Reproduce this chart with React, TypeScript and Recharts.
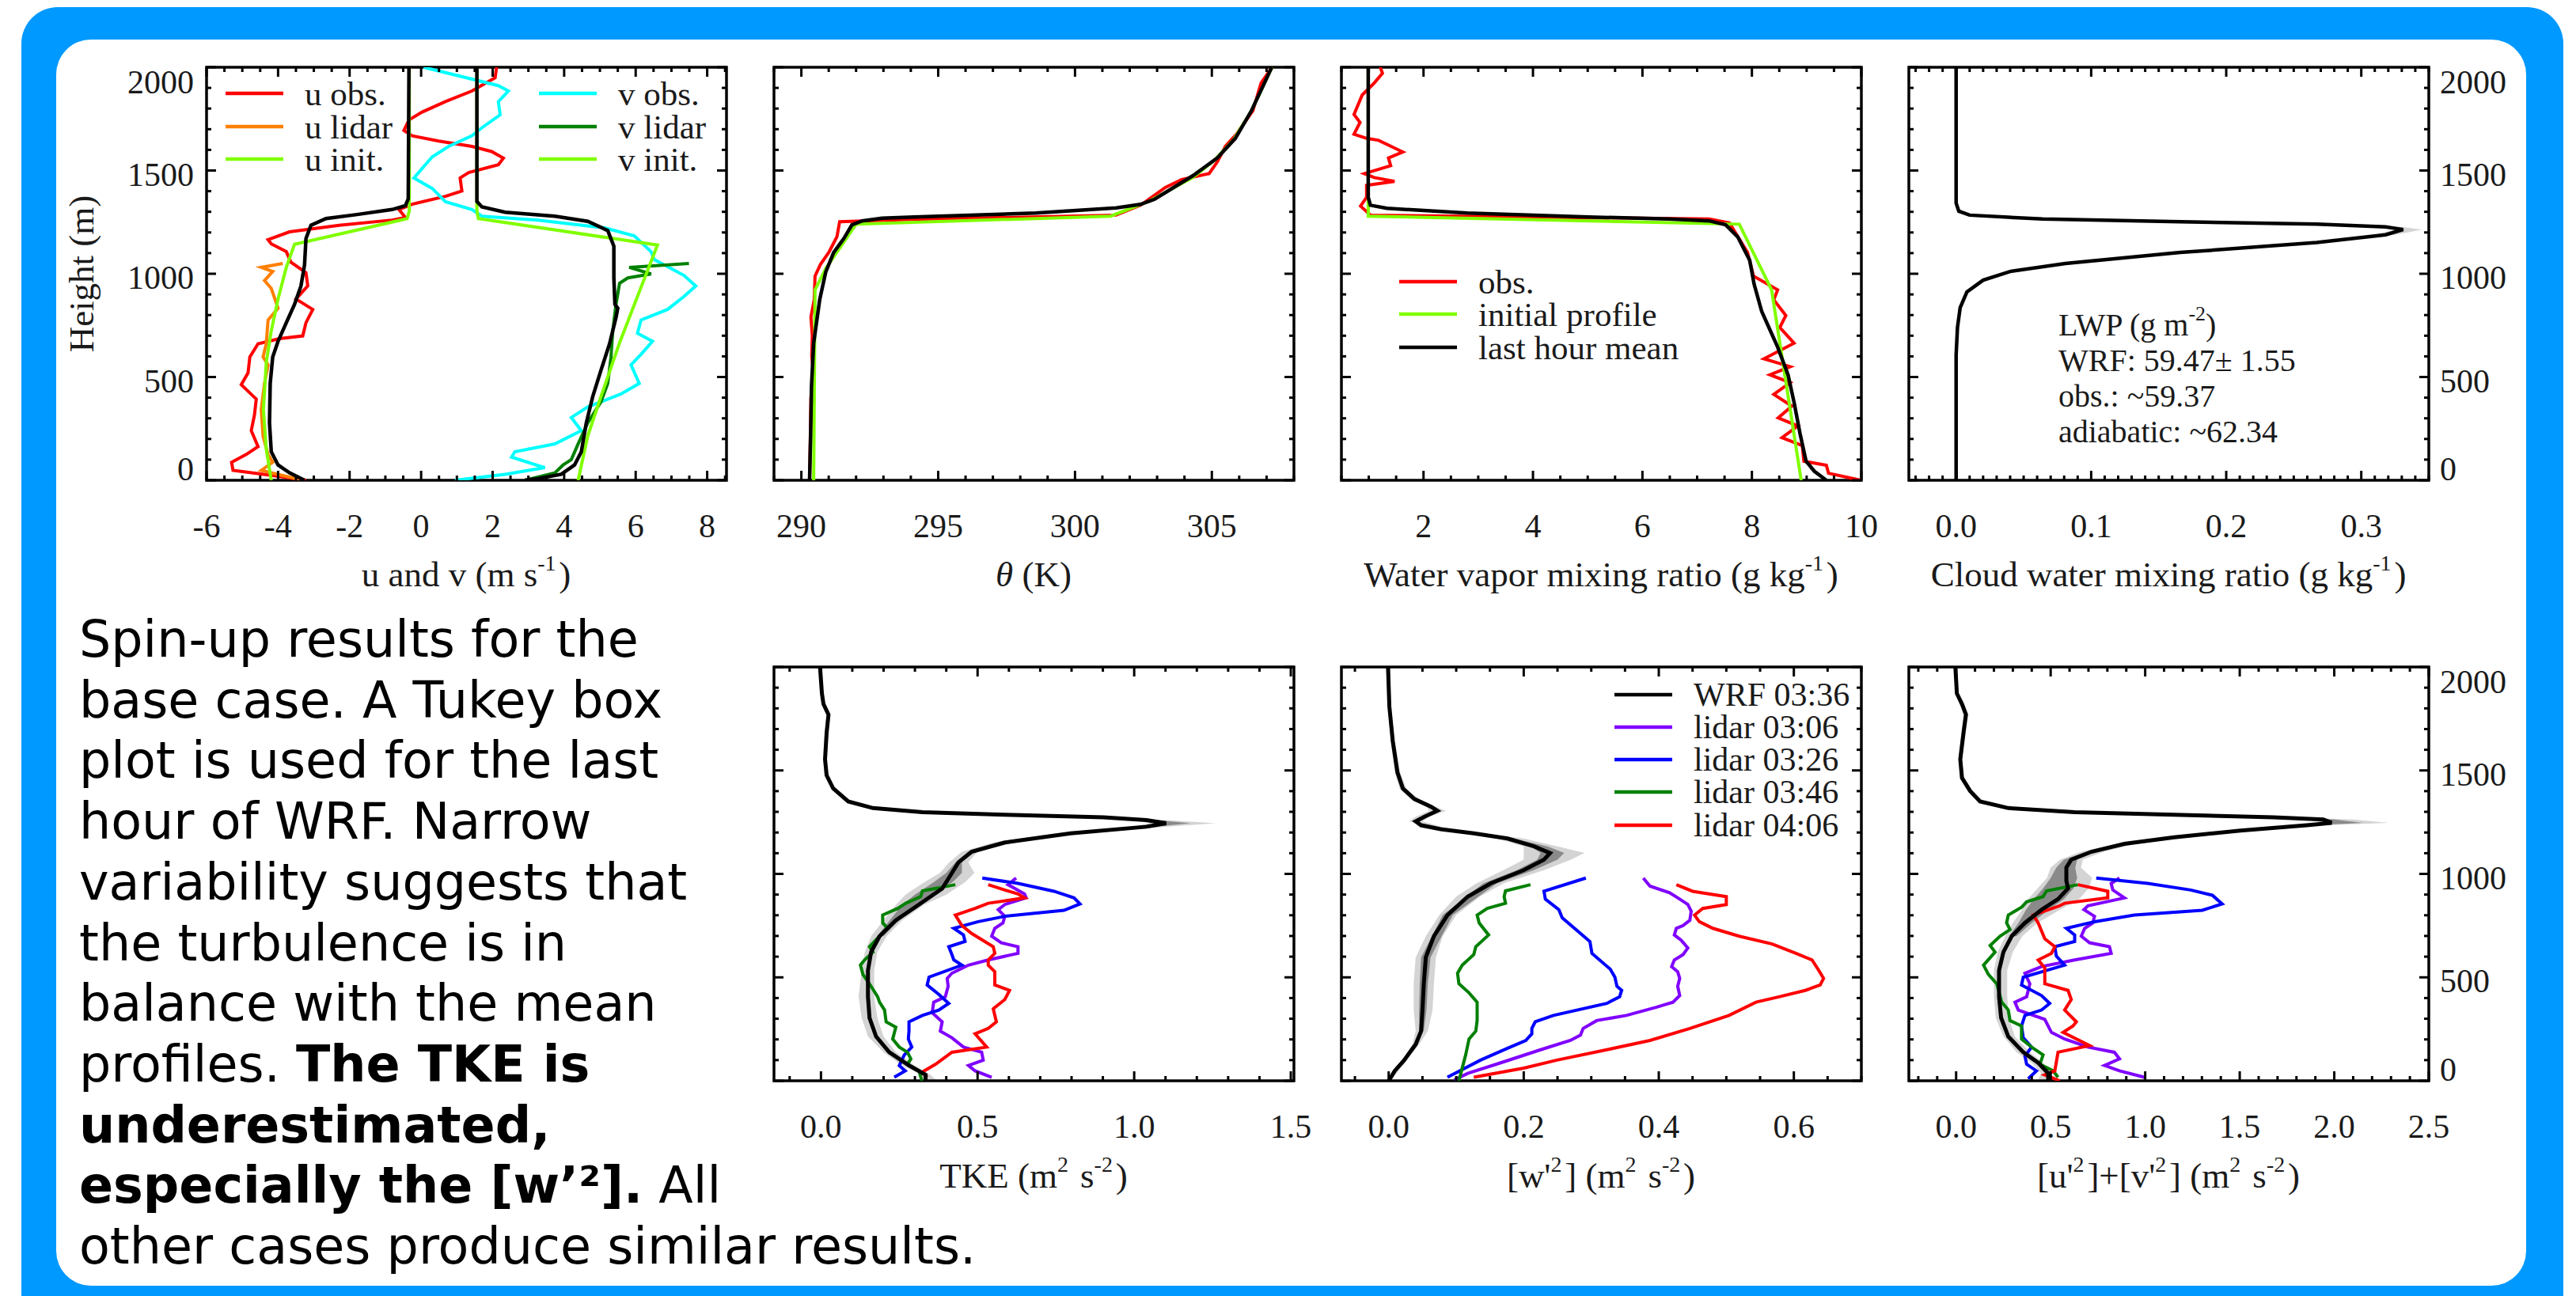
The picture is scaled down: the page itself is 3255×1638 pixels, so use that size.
import React from "react";
import { ComposedChart, Line, Area, XAxis, YAxis, ReferenceArea } from "recharts";

type Pair = [number, number]; // [height m, value]
type Triple = [number, number, number]; // [height m, low, high]

// ---------- u / v profiles ----------
const uObs: Pair[] = [[2000,2.11],[1949,2.07],[1885,1.42],[1834,0.68],[1783,0.03],[1745,-0.34],[1694,-0.48],[1668,-0.25],[1643,0.49],[1617,1.42],[1592,1.97],[1560,2.3],[1528,2.16],[1490,1.33],[1464,1.09],[1401,1.14],[1375,0.68],[1337,-0.25],[1311,-0.62],[1273,-0.44],[1260,-0.81],[1235,-2.29],[1203,-3.68],[1165,-4.28],[1145,-4.19],[1107,-3.77],[1056,-3.64],[1005,-3.22],[941,-3.17],[878,-3.5],[827,-3.03],[763,-3.22],[699,-3.31],[686,-3.96],[661,-4.56],[597,-4.79],[520,-4.84],[463,-5.03],[393,-4.61],[316,-4.66],[240,-4.75],[163,-4.56],[125,-4.89],[87,-5.3],[48,-5.26],[23,-4.15],[0,-3.22]];
const uLidar: Pair[] = [[1050,-3.87],[1031,-4.47],[1011,-4.15],[967,-4.38],[929,-4.19],[833,-4.0],[776,-4.28],[661,-4.33],[597,-4.42],[559,-4.28],[469,-4.38],[342,-4.47],[214,-4.42],[125,-4.28],[87,-4.15],[48,-4.47],[23,-3.87],[4,-3.4]];
const uInit: Pair[] = [[2000,-0.33],[1305,-0.33],[1267,-0.39],[1143,-3.54],[1031,-3.77],[878,-4.0],[724,-4.19],[571,-4.33],[342,-4.41],[150,-4.33],[0,-4.19]];
const uWrf: Pair[] = [[2000,-0.34],[1362,-0.36],[1330,-0.44],[1311,-0.81],[1286,-1.83],[1267,-2.66],[1235,-3.08],[1171,-3.22],[1043,-3.26],[941,-3.36],[852,-3.54],[763,-3.77],[673,-4.0],[597,-4.15],[469,-4.22],[278,-4.24],[138,-4.19],[74,-4.0],[36,-3.68],[0,-3.26]];
const vObs: Pair[] = [[2000,0.07],[1974,0.68],[1911,2.16],[1885,2.44],[1834,2.16],[1770,2.21],[1707,1.7],[1668,1.42],[1617,0.77],[1566,0.31],[1464,-0.2],[1413,0.31],[1349,0.68],[1311,1.42],[1279,1.7],[1260,3.27],[1222,5.13],[1184,5.96],[1107,6.43],[1069,6.52],[992,7.35],[941,7.68],[890,7.35],[827,6.89],[776,6.15],[712,6.05],[673,6.47],[610,6.15],[559,5.87],[469,6.1],[418,5.59],[355,4.66],[304,4.2],[240,4.48],[176,3.74],[138,2.62],[112,2.53],[61,3.46],[29,2.35],[0,0.95]];
const vLidar: Pair[] = [[1050,7.49],[1031,5.82],[999,6.43],[980,5.78],[954,5.55],[852,5.45],[724,5.36],[597,5.31],[469,5.22],[380,5.03],[278,4.66],[176,4.39],[100,4.2],[74,3.97],[36,3.74],[0,2.9]];
const vInit: Pair[] = [[2000,1.56],[1305,1.56],[1267,1.6],[1139,6.61],[890,6.05],[661,5.54],[406,5.03],[214,4.66],[0,4.39]];
const vWrf: Pair[] = [[2000,1.56],[1350,1.56],[1324,1.7],[1298,2.35],[1279,3.74],[1254,4.66],[1209,5.22],[1133,5.39],[980,5.39],[852,5.42],[833,5.5],[788,5.45],[661,5.27],[533,5.03],[406,4.8],[278,4.62],[138,4.48],[74,4.29],[29,3.92],[8,3.27],[0,2.9]];

// ---------- potential temperature ----------
const thObs: Pair[] = [[2000,307.2],[1924,306.8],[1790,306.5],[1676,305.9],[1618,305.5],[1542,305.2],[1485,304.9],[1456,303.9],[1418,303.3],[1370,302.8],[1332,302.4],[1284,301.5],[1263,294.1],[1252,291.4],[1179,291.3],[1103,291.0],[1046,290.7],[989,290.5],[874,290.47],[790,290.35],[702,290.4],[600,290.38],[511,290.45],[400,290.35],[302,290.34],[150,290.32],[0,290.3]];
const thInit: Pair[] = [[2000,307.2],[1790,306.45],[1650,305.8],[1550,305.1],[1466,304.3],[1351,302.7],[1279,301.3],[1240,292.0],[1027,290.9],[922,290.5],[0,290.45]];
const thWrf: Pair[] = [[2000,307.19],[1790,306.45],[1656,305.86],[1561,305.2],[1475,304.31],[1361,302.91],[1336,302.39],[1319,301.51],[1294,298.56],[1275,294.13],[1269,292.95],[1256,292.22],[1237,291.85],[1170,291.55],[1103,291.18],[1008,290.89],[874,290.67],[664,290.45],[454,290.37],[225,290.34],[0,290.3]];

// ---------- water vapor ----------
const qObs: Pair[] = [[2000,1.21],[1971,1.25],[1924,1.1],[1866,0.88],[1771,0.73],[1733,0.84],[1676,0.73],[1656,0.96],[1646,1.18],[1590,1.62],[1561,1.36],[1523,1.4],[1485,0.92],[1466,1.1],[1447,1.47],[1428,0.96],[1370,0.96],[1328,0.85],[1284,1.03],[1265,7.22],[1246,7.59],[1103,7.92],[989,8.03],[922,8.47],[874,8.4],[798,8.62],[740,8.51],[664,8.77],[588,8.22],[550,8.7],[511,8.33],[473,8.7],[416,8.4],[359,8.73],[302,8.48],[263,8.84],[206,8.55],[168,8.92],[92,8.95],[73,9.36],[34,9.4],[0,9.99]];
const qInit: Pair[] = [[2000,0.99],[1279,0.99],[1240,7.77],[922,8.36],[0,8.9]];
const qWrf: Pair[] = [[2000,0.99],[1370,0.99],[1332,1.03],[1317,1.33],[1294,2.8],[1275,5.01],[1265,6.48],[1256,7.22],[1237,7.52],[1179,7.74],[1065,7.96],[950,8.04],[817,8.18],[645,8.47],[511,8.66],[378,8.77],[225,8.88],[92,8.99],[44,9.14],[0,9.36]];

// ---------- cloud water ----------
const qcWrf: Pair[] = [[2000,0],[1342,0],[1303,0.002],[1284,0.01],[1265,0.064],[1252,0.166],[1240,0.267],[1227,0.318],[1214,0.331],[1189,0.318],[1151,0.267],[1103,0.166],[1050,0.081],[1011,0.04],[969,0.02],[912,0.008],[836,0.003],[740,0.001],[607,0],[0,0]];
const qcLight: Triple[] = [[1252,0.16,0.17],[1227,0.31,0.33],[1214,0.325,0.345],[1189,0.31,0.325],[1151,0.26,0.27]];

// ---------- TKE ----------
const tkeWrf: Pair[] = [[2000,-0.003],[1872,0.003],[1821,0.008],[1770,0.024],[1681,0.018],[1554,0.013],[1477,0.018],[1413,0.039],[1350,0.087],[1318,0.166],[1298,0.324],[1286,0.587],[1273,0.902],[1260,1.039],[1245,1.102],[1228,1.039],[1196,0.797],[1152,0.587],[1107,0.481],[1056,0.439],[980,0.408],[929,0.387],[852,0.313],[776,0.239],[699,0.187],[622,0.16],[533,0.15],[406,0.15],[304,0.155],[214,0.176],[138,0.218],[74,0.281],[29,0.334],[0,0.334]];
const tkeLight: Triple[] = [[2000,-0.006,0.0],[1872,0.0,0.006],[1821,0.004,0.012],[1770,0.018,0.03],[1681,0.012,0.024],[1554,0.008,0.018],[1477,0.012,0.024],[1413,0.032,0.046],[1350,0.08,0.095],[1318,0.155,0.175],[1298,0.31,0.33],[1273,0.88,0.92],[1260,1.0,1.1],[1245,1.05,1.26],[1228,1.0,1.1],[1196,0.75,0.84],[1152,0.55,0.62],[1107,0.45,0.5],[1056,0.41,0.47],[1005,0.38,0.49],[960,0.33,0.46],[900,0.27,0.4],[852,0.24,0.33],[776,0.2,0.26],[699,0.16,0.21],[622,0.14,0.18],[533,0.13,0.17],[406,0.12,0.17],[304,0.13,0.18],[214,0.15,0.2],[138,0.2,0.24],[74,0.26,0.3],[29,0.32,0.35],[0,0.32,0.37]];
const tkeDark: Triple[] = [[1298,0.32,0.33],[1260,1.03,1.07],[1245,1.08,1.18],[1228,1.02,1.06],[1196,0.78,0.81],[1152,0.57,0.6],[1107,0.47,0.49],[1056,0.43,0.45],[1005,0.4,0.45],[960,0.36,0.42],[900,0.3,0.35],[852,0.26,0.31],[776,0.22,0.25],[699,0.18,0.2]];
const tkeL0306: Pair[] = [[980,0.623],[948,0.597],[903,0.65],[884,0.655],[852,0.587],[827,0.566],[795,0.587],[763,0.581],[737,0.555],[699,0.545],[667,0.576],[648,0.629],[616,0.629],[584,0.534],[559,0.471],[520,0.418],[495,0.403],[457,0.406],[406,0.397],[380,0.36],[329,0.355],[285,0.387],[240,0.381],[208,0.418],[163,0.455],[138,0.513],[100,0.518],[74,0.471],[48,0.492],[17,0.545]];
const tkeL0326: Pair[] = [[980,0.515],[954,0.629],[916,0.744],[884,0.808],[855,0.827],[824,0.776],[795,0.587],[769,0.502],[737,0.424],[705,0.455],[673,0.46],[648,0.408],[610,0.418],[584,0.424],[559,0.45],[501,0.345],[463,0.339],[418,0.376],[374,0.408],[342,0.376],[316,0.324],[285,0.281],[240,0.281],[202,0.279],[163,0.29],[125,0.266],[74,0.25],[48,0.269],[17,0.234]];
const tkeL0346: Pair[] = [[948,0.429],[918,0.324],[890,0.318],[858,0.271],[833,0.245],[801,0.197],[763,0.197],[737,0.213],[699,0.187],[648,0.155],[622,0.166],[584,0.139],[559,0.126],[514,0.134],[457,0.16],[406,0.181],[380,0.187],[342,0.203],[285,0.208],[259,0.239],[202,0.229],[163,0.25],[138,0.276],[106,0.287],[80,0.276],[48,0.313],[0,0.322]];
const tkeL0406: Pair[] = [[948,0.534],[922,0.587],[903,0.629],[884,0.65],[858,0.534],[833,0.492],[801,0.429],[750,0.45],[712,0.481],[648,0.55],[616,0.555],[584,0.534],[559,0.534],[527,0.555],[463,0.555],[437,0.602],[393,0.587],[348,0.55],[285,0.56],[253,0.534],[227,0.492],[163,0.529],[138,0.418],[80,0.366],[42,0.323],[17,0.339]];

// ---------- [w'2] ----------
const wWrf: Pair[] = [[2000,-0.001],[1809,0.001],[1643,0.006],[1490,0.013],[1413,0.021],[1362,0.038],[1324,0.063],[1305,0.072],[1276,0.053],[1254,0.04],[1235,0.048],[1216,0.077],[1196,0.126],[1171,0.176],[1133,0.215],[1101,0.239],[1069,0.23],[1018,0.2],[954,0.151],[890,0.117],[801,0.087],[699,0.067],[597,0.055],[469,0.052],[342,0.05],[240,0.048],[176,0.04],[100,0.023],[48,0.009],[0,0.0]];
const wLight: Triple[] = [[2000,-0.003,0.001],[1809,-0.001,0.003],[1643,0.003,0.009],[1490,0.009,0.017],[1413,0.016,0.026],[1362,0.032,0.044],[1324,0.056,0.07],[1305,0.06,0.085],[1276,0.04,0.06],[1254,0.03,0.05],[1216,0.07,0.09],[1171,0.16,0.2],[1133,0.2,0.25],[1101,0.2,0.29],[1069,0.2,0.27],[1018,0.17,0.23],[954,0.13,0.17],[890,0.1,0.135],[801,0.075,0.1],[699,0.055,0.08],[597,0.04,0.07],[469,0.037,0.067],[342,0.037,0.065],[240,0.04,0.058],[176,0.035,0.045],[100,0.02,0.027],[0,-0.002,0.003]];
const wDark: Triple[] = [[1196,0.12,0.13],[1171,0.17,0.185],[1133,0.21,0.235],[1101,0.225,0.26],[1069,0.22,0.25],[1018,0.19,0.215],[954,0.14,0.16],[801,0.08,0.095],[597,0.048,0.062],[469,0.046,0.058],[342,0.045,0.056],[240,0.045,0.052]];
const wL0306: Pair[] = [[980,0.377],[941,0.387],[909,0.416],[878,0.431],[852,0.443],[820,0.448],[776,0.446],[750,0.436],[737,0.426],[705,0.423],[680,0.433],[642,0.443],[610,0.436],[584,0.423],[552,0.419],[527,0.428],[495,0.431],[457,0.428],[412,0.431],[380,0.421],[355,0.396],[316,0.352],[291,0.308],[253,0.288],[221,0.284],[195,0.269],[150,0.225],[87,0.166],[36,0.117],[4,0.097]];
const wL0326: Pair[] = [[980,0.292],[916,0.23],[878,0.232],[827,0.252],[788,0.257],[712,0.284],[673,0.298],[616,0.301],[540,0.328],[501,0.335],[457,0.338],[437,0.345],[406,0.342],[374,0.323],[316,0.244],[285,0.217],[253,0.212],[227,0.212],[195,0.203],[157,0.176],[100,0.136],[17,0.087]];
const wL0346: Pair[] = [[948,0.21],[918,0.173],[890,0.171],[858,0.173],[833,0.146],[801,0.131],[763,0.134],[705,0.148],[648,0.129],[610,0.126],[559,0.109],[520,0.102],[469,0.104],[425,0.119],[380,0.131],[291,0.131],[240,0.129],[202,0.119],[125,0.114],[0,0.104]];
const wL0406: Pair[] = [[948,0.426],[916,0.45],[890,0.5],[852,0.5],[833,0.465],[801,0.453],[769,0.46],[737,0.48],[699,0.519],[661,0.568],[616,0.603],[584,0.627],[533,0.637],[495,0.644],[463,0.639],[437,0.617],[406,0.578],[380,0.544],[316,0.504],[253,0.446],[195,0.387],[150,0.323],[100,0.249],[61,0.2],[17,0.126]];

// ---------- [u'2]+[v'2] ----------
const uvWrf: Pair[] = [[2000,-0.004],[1872,0.004],[1821,0.031],[1770,0.052],[1681,0.039],[1554,0.022],[1464,0.031],[1401,0.074],[1350,0.127],[1318,0.276],[1298,0.627],[1286,1.153],[1273,1.679],[1263,1.942],[1247,1.986],[1235,1.855],[1209,1.504],[1177,1.153],[1145,0.89],[1107,0.715],[1069,0.609],[1031,0.583],[967,0.583],[929,0.592],[878,0.539],[827,0.452],[763,0.364],[699,0.294],[622,0.25],[533,0.227],[406,0.227],[304,0.238],[214,0.276],[138,0.355],[87,0.434],[36,0.487],[0,0.487]];
const uvLight: Triple[] = [[2000,-0.01,0.0],[1872,-0.005,0.012],[1821,0.02,0.042],[1770,0.04,0.065],[1681,0.028,0.05],[1554,0.012,0.032],[1464,0.02,0.042],[1401,0.062,0.086],[1350,0.115,0.14],[1318,0.26,0.29],[1298,0.6,0.65],[1273,1.6,1.75],[1263,1.85,2.1],[1247,1.95,2.29],[1235,1.8,1.95],[1209,1.45,1.55],[1145,0.85,0.95],[1107,0.66,0.78],[1069,0.55,0.67],[1031,0.5,0.66],[980,0.48,0.72],[929,0.43,0.7],[878,0.38,0.65],[827,0.35,0.55],[763,0.3,0.43],[699,0.26,0.35],[622,0.22,0.3],[533,0.2,0.27],[406,0.2,0.27],[304,0.21,0.28],[214,0.25,0.31],[138,0.32,0.39],[87,0.4,0.46],[36,0.45,0.5],[0,0.43,0.52]];
const uvDark: Triple[] = [[1273,1.65,1.72],[1263,1.9,2.0],[1247,1.96,2.15],[1235,1.82,1.9],[1209,1.48,1.53],[1145,0.87,0.92],[1107,0.69,0.74],[1069,0.57,0.64],[1031,0.53,0.63],[980,0.5,0.64],[929,0.46,0.62],[878,0.41,0.57],[827,0.37,0.49],[763,0.33,0.4],[699,0.28,0.32]];
const uvL0306: Pair[] = [[980,0.864],[954,0.82],[922,0.829],[884,0.89],[846,0.697],[827,0.676],[795,0.732],[763,0.723],[737,0.68],[699,0.662],[667,0.706],[648,0.811],[616,0.82],[584,0.627],[552,0.452],[520,0.364],[469,0.39],[406,0.373],[380,0.311],[342,0.329],[297,0.469],[234,0.504],[202,0.574],[163,0.697],[138,0.837],[106,0.864],[74,0.785],[48,0.864],[17,0.995]];
const uvL0326: Pair[] = [[980,0.741],[954,1.013],[922,1.241],[897,1.355],[855,1.407],[824,1.302],[801,0.943],[769,0.732],[737,0.583],[705,0.627],[673,0.627],[648,0.522],[603,0.53],[559,0.574],[501,0.355],[463,0.346],[412,0.452],[374,0.495],[342,0.452],[316,0.364],[265,0.346],[208,0.355],[163,0.399],[119,0.364],[80,0.373],[48,0.425],[10,0.381]];
const uvL0346: Pair[] = [[948,0.644],[918,0.478],[890,0.46],[865,0.373],[839,0.346],[801,0.276],[763,0.267],[731,0.285],[699,0.232],[654,0.18],[622,0.206],[559,0.145],[514,0.171],[469,0.215],[380,0.241],[342,0.276],[291,0.285],[265,0.346],[202,0.346],[157,0.408],[125,0.46],[80,0.443],[48,0.513],[17,0.539]];
const uvL0406: Pair[] = [[948,0.644],[916,0.802],[884,0.802],[858,0.574],[846,0.548],[801,0.408],[763,0.434],[686,0.469],[648,0.522],[616,0.504],[584,0.434],[546,0.469],[469,0.469],[437,0.592],[393,0.609],[342,0.574],[285,0.636],[265,0.618],[234,0.566],[170,0.706],[138,0.539],[48,0.522],[29,0.469],[0,0.548]];

// ---------- axes ----------
const heightTicks = [0, 500, 1000, 1500, 2000];
const uvTicks = [-6, -4, -2, 0, 2, 4, 6, 8];
const thTicks = [290, 295, 300, 305];
const qTicks = [2, 4, 6, 8, 10];
const qcTicks = [0, 0.1, 0.2, 0.3];
const tkeTicks = [0, 0.5, 1.0, 1.5];
const wTicks = [0, 0.2, 0.4, 0.6];
const uvVarTicks = [0, 0.5, 1.0, 1.5, 2.0, 2.5];

const captionLines: [string, boolean][][] = [
  [["Spin-up results for the", false]],
  [["base case. A Tukey box", false]],
  [["plot is used for the last", false]],
  [["hour of WRF. Narrow", false]],
  [["variability suggests that", false]],
  [["the turbulence is in", false]],
  [["balance with the mean", false]],
  [["profiles. ", false], ["The TKE is", true]],
  [["underestimated,", true]],
  [["especially the [w\u2019\u00b2].", true], [" All", false]],
  [["other cases produce similar results.", false]],
];

const SERIF = "'Liberation Serif', 'Times New Roman', serif";
const RED = "#ff0000", ORANGE = "#ff8000", LIME = "#80ff00", CYAN = "#00ffff", DGREEN = "#008000";
const PURPLE = "#8000ff", BLUE = "#0000ff";

const PW = 657, ML = 120, MR = 120, MT = 30, MB = 150;

const pts = (a: Pair[]) => a.map(([h, x]) => ({ h, x }));
const band = (a: Triple[]) => a.map(([h, lo, hi]) => ({ h, r: [lo, hi] }));
const stepTicks = (d: [number, number], step: number) => {
  const out: number[] = [];
  const start = Math.ceil(d[0] / step - 1e-9) * step;
  for (let v = start; v <= d[1] + 1e-9; v += step) out.push(Math.round(v * 1e6) / 1e6);
  return out;
};
const has = (arr: number[], v: number) => arr.some((m) => Math.abs(m - v) < 1e-6);

type Series = { data: Pair[]; color: string; width: number };
type PanelProps = {
  left: number;
  top: number;
  plotH: number;
  xDomain: [number, number];
  xMajor: number[];
  xStep: number;
  digits: number;
  ySide: "left" | "right" | "none";
  series: Series[];
  light?: Triple[];
  dark?: Triple[];
};

function Panel(p: PanelProps) {
  const W = PW + ML + MR;
  const H = MT + p.plotH + MB;
  const bottom = MT + p.plotH;
  const right = p.ySide === "right";
  const xTicks = stepTicks(p.xDomain, p.xStep);
  const yTicks = stepTicks([0, 2000], 100);

  const XTick = (props: any) => {
    const x = props.x;
    const v = props.payload.value;
    const major = has(p.xMajor, v);
    const len = major ? 12 : 6;
    return (
      <g>
        <line x1={x} x2={x} y1={bottom} y2={bottom - len} stroke="#000" strokeWidth={3} />
        <line x1={x} x2={x} y1={MT} y2={MT + len} stroke="#000" strokeWidth={3} />
        {major && (
          <text x={x} y={bottom + 58} textAnchor="middle" dominantBaseline="central" fontSize={42} fontFamily={SERIF} fill="#1a1a1a">
            {v.toFixed(p.digits)}
          </text>
        )}
      </g>
    );
  };

  const YTick = (props: any) => {
    const y = props.y;
    const v = props.payload.value;
    const major = has(heightTicks, v);
    const len = major ? 12 : 6;
    let ty = y + 5;
    if (v === 2000) ty = MT + 19;
    if (v === 0) ty = bottom - 14;
    return (
      <g>
        <line x1={ML} x2={ML + len} y1={y} y2={y} stroke="#000" strokeWidth={3} />
        <line x1={ML + PW} x2={ML + PW - len} y1={y} y2={y} stroke="#000" strokeWidth={3} />
        {major && p.ySide !== "none" && (
          <text
            x={right ? ML + PW + 14 : ML - 16}
            y={ty}
            textAnchor={right ? "start" : "end"}
            dominantBaseline="central"
            fontSize={42}
            fontFamily={SERIF}
            fill="#1a1a1a"
          >
            {v}
          </text>
        )}
      </g>
    );
  };

  return (
    <div style={{ position: "absolute", left: p.left - ML, top: p.top - MT, width: W, height: H }}>
      <ComposedChart
        width={W}
        height={H}
        layout="vertical"
        margin={{ top: MT, bottom: 0, left: right ? ML : 0, right: right ? 0 : MR }}
      >
        <XAxis
          type="number"
          domain={p.xDomain}
          ticks={xTicks}
          interval={0}
          allowDataOverflow
          tick={XTick}
          tickLine={false}
          axisLine={false}
          height={MB}
        />
        <YAxis
          type="number"
          dataKey="h"
          domain={[0, 2000]}
          ticks={yTicks}
          interval={0}
          allowDataOverflow
          reversed
          orientation={right ? "right" : "left"}
          width={right ? MR : ML}
          tick={YTick}
          tickLine={false}
          axisLine={false}
        />
        {p.light && (
          <Area data={band(p.light)} dataKey="r" type="linear" stroke="none" fill="#d4d4d4" fillOpacity={1} isAnimationActive={false} />
        )}
        {p.dark && (
          <Area data={band(p.dark)} dataKey="r" type="linear" stroke="none" fill="#8a8a8a" fillOpacity={1} isAnimationActive={false} />
        )}
        {p.series.map((s, i) => (
          <Line
            key={i}
            data={pts(s.data)}
            dataKey="x"
            type="linear"
            stroke={s.color}
            strokeWidth={s.width}
            dot={false}
            activeDot={false}
            isAnimationActive={false}
          />
        ))}
        <ReferenceArea x1={p.xDomain[0]} x2={p.xDomain[1]} y1={0} y2={2000} fill="none" stroke="#000" strokeWidth={3.5} />
      </ComposedChart>
    </div>
  );
}

const Sup = ({ t }: { t: string }) => (
  <>
    <tspan dy={-15} fontSize={28}>{t}</tspan>
    <tspan dy={15}>{"\u200a"}</tspan>
  </>
);

function LegendRows({ x, ys, items, size }: { x: number; ys: number[]; items: [string, string][]; size: number }) {
  return (
    <>
      {items.map(([label, color], i) => (
        <g key={label}>
          <line x1={x} x2={x + 73} y1={ys[i]} y2={ys[i]} stroke={color} strokeWidth={4.5} />
          <text x={x + 100} y={ys[i]} dominantBaseline="central" fontSize={size} fontFamily={SERIF} fill="#1a1a1a">
            {label}
          </text>
        </g>
      ))}
    </>
  );
}

function Overlay() {
  const t = { fontSize: 45, fontFamily: SERIF, fill: "#1a1a1a", textAnchor: "middle" as const, dominantBaseline: "central" as const };
  return (
    <svg width={3255} height={1638} style={{ position: "absolute", left: 0, top: 0, pointerEvents: "none" }}>
      <text x={103} y={346} {...t} transform="rotate(-90 103 346)">Height (m)</text>
      <text x={589} y={726} {...t}>u and v (m s<Sup t="-1" />)</text>
      <text x={1306} y={726} {...t}><tspan fontStyle="italic">θ</tspan> (K)</text>
      <text x={2023} y={726} {...t}>Water vapor mixing ratio (g kg<Sup t="-1" />)</text>
      <text x={2740} y={726} {...t}>Cloud water mixing ratio (g kg<Sup t="-1" />)</text>
      <text x={1306} y={1486} {...t}>TKE (m<Sup t="2" /> s<Sup t="-2" />)</text>
      <text x={2023} y={1486} {...t}>[w'<Sup t="2" />] (m<Sup t="2" /> s<Sup t="-2" />)</text>
      <text x={2740} y={1486} {...t}>[u'<Sup t="2" />]+[v'<Sup t="2" />] (m<Sup t="2" /> s<Sup t="-2" />)</text>

      <LegendRows x={285} ys={[118, 160, 201]} size={43} items={[["u obs.", RED], ["u lidar", ORANGE], ["u init.", LIME]]} />
      <LegendRows x={681} ys={[118, 160, 201]} size={43} items={[["v obs.", CYAN], ["v lidar", DGREEN], ["v init.", LIME]]} />
      <LegendRows x={1768} ys={[356, 397, 439]} size={43} items={[["obs.", RED], ["initial profile", LIME], ["last hour mean", "#000"]]} />
      <LegendRows
        x={2040}
        ys={[878, 919, 960, 1001, 1043]}
        size={42}
        items={[["WRF 03:36", "#000"], ["lidar 03:06", PURPLE], ["lidar 03:26", BLUE], ["lidar 03:46", DGREEN], ["lidar 04:06", RED]]}
      />

      <g fontSize={40} fontFamily={SERIF} fill="#1a1a1a" dominantBaseline="central">
        <text x={2601} y={410}>LWP (g m<tspan dy={-14} fontSize={26}>-2</tspan><tspan dy={14}>)</tspan></text>
        <text x={2601} y={455}>WRF: 59.47± 1.55</text>
        <text x={2601} y={500}>obs.: ~59.37</text>
        <text x={2601} y={545}>adiabatic: ~62.34</text>
      </g>

      <g fontSize={63.5} fontFamily="'DejaVu Sans', Verdana, sans-serif" fill="#000">
        {captionLines.map((segs, i) => (
          <text key={i} x={100} y={830 + i * 76.7} style={{ whiteSpace: "pre" }}>
            {segs.map(([s, b], j) => (
              <tspan key={j} fontWeight={b ? "bold" : "normal"}>{s}</tspan>
            ))}
          </text>
        ))}
      </g>
    </svg>
  );
}

export default function App() {
  const TOP = 85, BOT = 843;
  const C = 4, K = 4.5, KB = 5;
  return (
    <div style={{ position: "absolute", left: 0, top: 0, width: 3255, height: 1638, overflow: "hidden", background: "#fff" }}>
      <div style={{ position: "absolute", left: 27, top: 9, width: 3212, height: 1720, borderRadius: 46, background: "#0099ff" }} />
      <div style={{ position: "absolute", left: 71, top: 50, width: 3121, height: 1575, borderRadius: 44, background: "#fff" }} />

      <Panel left={261} top={TOP} plotH={522} xDomain={[-6, 8.54]} xMajor={uvTicks} xStep={0.5} digits={0} ySide="left"
        series={[
          { data: uObs, color: RED, width: C },
          { data: uLidar, color: ORANGE, width: C },
          { data: vObs, color: CYAN, width: C },
          { data: vLidar, color: DGREEN, width: C },
          { data: uInit, color: LIME, width: C },
          { data: vInit, color: LIME, width: C },
          { data: uWrf, color: "#000", width: K },
          { data: vWrf, color: "#000", width: K },
        ]} />
      <Panel left={978} top={TOP} plotH={522} xDomain={[289, 308]} xMajor={thTicks} xStep={1} digits={0} ySide="none"
        series={[
          { data: thObs, color: RED, width: C },
          { data: thInit, color: LIME, width: C },
          { data: thWrf, color: "#000", width: K },
        ]} />
      <Panel left={1695} top={TOP} plotH={522} xDomain={[0.5, 10]} xMajor={qTicks} xStep={0.5} digits={0} ySide="none"
        series={[
          { data: qObs, color: RED, width: C },
          { data: qInit, color: LIME, width: C },
          { data: qWrf, color: "#000", width: K },
        ]} />
      <Panel left={2412} top={TOP} plotH={522} xDomain={[-0.035, 0.35]} xMajor={qcTicks} xStep={0.01} digits={1} ySide="right"
        light={qcLight}
        series={[{ data: qcWrf, color: "#000", width: K }]} />

      <Panel left={978} top={BOT} plotH={523} xDomain={[-0.15, 1.51]} xMajor={tkeTicks} xStep={0.1} digits={1} ySide="none"
        light={tkeLight} dark={tkeDark}
        series={[
          { data: tkeL0306, color: PURPLE, width: C },
          { data: tkeL0326, color: BLUE, width: C },
          { data: tkeL0346, color: DGREEN, width: C },
          { data: tkeL0406, color: RED, width: C },
          { data: tkeWrf, color: "#000", width: KB },
        ]} />
      <Panel left={1695} top={BOT} plotH={523} xDomain={[-0.07, 0.7]} xMajor={wTicks} xStep={0.05} digits={1} ySide="none"
        light={wLight} dark={wDark}
        series={[
          { data: wL0306, color: PURPLE, width: C },
          { data: wL0326, color: BLUE, width: C },
          { data: wL0346, color: DGREEN, width: C },
          { data: wL0406, color: RED, width: C },
          { data: wWrf, color: "#000", width: KB },
        ]} />
      <Panel left={2412} top={BOT} plotH={523} xDomain={[-0.25, 2.5]} xMajor={uvVarTicks} xStep={0.1} digits={1} ySide="right"
        light={uvLight} dark={uvDark}
        series={[
          { data: uvL0306, color: PURPLE, width: C },
          { data: uvL0326, color: BLUE, width: C },
          { data: uvL0346, color: DGREEN, width: C },
          { data: uvL0406, color: RED, width: C },
          { data: uvWrf, color: "#000", width: KB },
        ]} />

      <Overlay />
    </div>
  );
}
